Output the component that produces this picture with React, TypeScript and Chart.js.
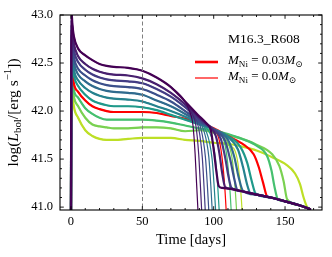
import React, { useEffect, useRef } from "react";
import { Chart, registerables } from "chart.js";

Chart.register(...registerables);

// ---------- data ----------
const modelColors = [
  "#440154", "#48206f", "#433c84", "#3c508b", "#306b8e", "#26828e",
  "#1f998a", "#ff0000", "#46c06f", "#7ad151", "#bddf26",
];

const plateauDays = [0, 0.3, 1, 2, 5, 10, 15, 20, 25, 30, 40, 50, 60, 70, 80];
const plateauM0 = [40.9, 43.05, 42.9, 42.78, 42.65, 42.58, 42.53, 42.49, 42.47, 42.46, 42.45, 42.42, 42.35, 42.25, 42.1];
const plateauM1 = [40.9, 43.0, 42.82, 42.7, 42.57, 42.49, 42.44, 42.41, 42.39, 42.38, 42.37, 42.34, 42.28, 42.19, 42.07];
const plateauM2 = [40.9, 42.95, 42.74, 42.63, 42.51, 42.43, 42.38, 42.35, 42.33, 42.32, 42.31, 42.29, 42.23, 42.15, 42.04];
const plateauM3 = [40.9, 42.9, 42.68, 42.56, 42.44, 42.37, 42.32, 42.29, 42.27, 42.26, 42.25, 42.23, 42.17, 42.1, 42.0];
const plateauM4 = [40.9, 42.85, 42.62, 42.5, 42.38, 42.31, 42.26, 42.23, 42.21, 42.2, 42.19, 42.17, 42.11, 42.05, 41.97];
const plateauM5 = [40.9, 42.8, 42.56, 42.43, 42.32, 42.24, 42.19, 42.16, 42.14, 42.13, 42.12, 42.1, 42.05, 42.0, 41.94];
const plateauM6 = [40.9, 42.75, 42.5, 42.37, 42.26, 42.17, 42.11, 42.08, 42.06, 42.05, 42.05, 42.04, 42.01, 41.96, 41.91];
const plateauRed = [40.9, 42.7, 42.42, 42.29, 42.2, 42.11, 42.05, 42.02, 42.0, 41.99, 41.99, 41.99, 41.98, 41.95, 41.92];
const plateauM8 = [40.9, 42.65, 42.35, 42.22, 42.14, 42.03, 41.97, 41.93, 41.91, 41.91, 41.91, 41.91, 41.9, 41.88, 41.85];
const plateauM9 = [40.9, 42.6, 42.28, 42.15, 42.05, 41.93, 41.86, 41.84, 41.83, 41.82, 41.82, 41.83, 41.83, 41.82, 41.79];
const plateauM10 = [40.9, 42.55, 42.2, 42.05, 41.93, 41.8, 41.74, 41.71, 41.7, 41.7, 41.71, 41.72, 41.72, 41.72, 41.7];
const plateaus = [plateauM0, plateauM1, plateauM2, plateauM3, plateauM4, plateauM5, plateauM6, plateauRed, plateauM8, plateauM9, plateauM10];

// end of plateau with M_Ni = 0.03 (thick lines)
const dropNi: number[][][] = [
  [[89, 41.96], [95, 41.87], [98, 41.8], [100, 41.6], [102, 41.36], [103.5, 41.22]],
  [[90, 41.93], [97, 41.84], [101.5, 41.74], [104, 41.56], [106, 41.35], [108, 41.21]],
  [[90, 41.91], [100, 41.81], [105, 41.71], [108, 41.52], [110.5, 41.31], [112.5, 41.2]],
  [[90, 41.89], [100, 41.81], [108, 41.69], [111.5, 41.5], [114.5, 41.29], [116.5, 41.18]],
  [[90, 41.88], [100, 41.81], [110, 41.7], [114.5, 41.52], [117.5, 41.31], [120.5, 41.17]],
  [[90, 41.87], [100, 41.81], [110, 41.73], [117, 41.6], [120.5, 41.42], [123.5, 41.23], [125.5, 41.15]],
  [[90, 41.86], [100, 41.81], [110, 41.74], [119, 41.62], [123.5, 41.46], [126.5, 41.28], [129.5, 41.14]],
  [[90, 41.88], [100, 41.82], [110, 41.74], [120, 41.66], [128, 41.55], [131.5, 41.42], [134.5, 41.26], [137.5, 41.11]],
  [[90, 41.82], [100, 41.8], [110, 41.76], [120, 41.71], [130, 41.64], [137.5, 41.53], [140.5, 41.38], [142.5, 41.22], [145, 41.08]],
  [[90, 41.8], [100, 41.78], [110, 41.75], [120, 41.71], [130, 41.65], [141, 41.55], [146, 41.43], [149, 41.27], [151.5, 41.08]],
  [[90, 41.69], [100, 41.67], [110, 41.66], [120, 41.63], [130, 41.59], [141, 41.52], [151, 41.44], [157, 41.35], [160.5, 41.24], [163, 41.1], [165.5, 41.0], [167.5, 40.98]],
];

// radioactive tail shared by the M_Ni = 0.03 models
const tailDays = [106, 112, 120, 130, 140, 150, 160, 167.5];
const tailLogL = [41.2, 41.19, 41.165, 41.13, 41.1, 41.06, 41.02, 40.98];

// end of plateau with M_Ni = 0 (thin lines)
const dropNoNi: number[][][] = [
  [[83, 42.0], [85.5, 41.85], [87, 41.55], [88, 41.25], [89.2, 40.9]],
  [[84.5, 41.98], [87.5, 41.85], [89.5, 41.55], [90.6, 41.25], [91.8, 40.9]],
  [[86, 41.96], [89.5, 41.82], [92, 41.52], [93.2, 41.22], [94.3, 40.9]],
  [[86, 41.94], [91, 41.82], [94.2, 41.52], [95.6, 41.22], [96.8, 40.9]],
  [[86, 41.92], [93, 41.8], [96.6, 41.52], [98, 41.22], [99.2, 40.9]],
  [[86, 41.9], [95, 41.78], [98.9, 41.5], [100.4, 41.2], [101.6, 40.9]],
  [[86, 41.88], [97, 41.78], [101.3, 41.5], [102.9, 41.2], [104.1, 40.9]],
  [[90, 41.88], [100, 41.81], [103.5, 41.72], [106, 41.5], [107.8, 41.2], [109, 40.9]],
  [[90, 41.82], [100, 41.79], [106.5, 41.72], [109.5, 41.5], [111.3, 41.2], [112.5, 40.9]],
  [[90, 41.8], [100, 41.77], [109.5, 41.68], [113, 41.5], [115, 41.2], [116.3, 40.9]],
  [[90, 41.69], [100, 41.67], [111, 41.64], [116.5, 41.5], [118.8, 41.2], [120.2, 40.9]],
];

const xTicksMajor = [0, 50, 100, 150];
const xTicksMinor = [10, 20, 30, 40, 60, 70, 80, 90, 110, 120, 130, 140, 160, 170];
const yTicksMajor = [41.0, 41.5, 42.0, 42.5, 43.0];
const yTicksMinor = [41.1, 41.2, 41.3, 41.4, 41.6, 41.7, 41.8, 41.9, 42.1, 42.2, 42.3, 42.4, 42.6, 42.7, 42.8, 42.9];
const xRange = [-7.7, 175.9];
const yRange = [40.97, 43.0];
const markerDay = 50;
const legendTitle = "M16.3_R608";
const legendNi = ["0.03", "0.0"];

// ---------- drawing helpers ----------
const FONT = "'Liberation Serif', 'DejaVu Serif', 'Times New Roman', serif";
type Seg = { t: string; it?: boolean; sub?: boolean; sup?: boolean };

function drawRich(ctx: CanvasRenderingContext2D, segs: Seg[], x: number, y: number, size: number, align: "left" | "center") {
  const fontFor = (s: Seg) => `${s.it ? "italic " : ""}${s.sub || s.sup ? size * 0.7 : size}px ${FONT}`;
  let total = 0;
  const widths = segs.map((s) => {
    ctx.font = fontFor(s);
    const w = ctx.measureText(s.t).width;
    total += w;
    return w;
  });
  let cx = align === "center" ? x - total / 2 : x;
  ctx.textBaseline = "middle";
  ctx.textAlign = "left";
  segs.forEach((s, i) => {
    ctx.font = fontFor(s);
    const dy = s.sub ? size * 0.28 : s.sup ? -size * 0.36 : 0;
    ctx.fillText(s.t, cx, y + dy);
    cx += widths[i];
  });
}

const decorPlugin = {
  id: "decor",
  afterDatasetsDraw(chart: any) {
    const { ctx, chartArea: a, scales } = chart;
    const x = scales.x;
    const y = scales.y;
    ctx.save();
    // dashed marker
    ctx.strokeStyle = "#808080";
    ctx.lineWidth = 1;
    ctx.setLineDash([4, 2.5]);
    const mx = Math.round(x.getPixelForValue(markerDay)) + 0.5;
    ctx.beginPath();
    ctx.moveTo(mx, a.top);
    ctx.lineTo(mx, a.bottom);
    ctx.stroke();
    ctx.setLineDash([]);

    // ticks (inward, all sides)
    ctx.strokeStyle = "#000";
    ctx.lineWidth = 0.9;
    const tick = (vals: number[], len: number) => {
      vals.forEach((v) => {
        const px = x.getPixelForValue(v);
        ctx.beginPath();
        ctx.moveTo(px, a.bottom);
        ctx.lineTo(px, a.bottom - len);
        ctx.moveTo(px, a.top);
        ctx.lineTo(px, a.top + len);
        ctx.stroke();
      });
    };
    const ytick = (vals: number[], len: number) => {
      vals.forEach((v) => {
        const py = y.getPixelForValue(v);
        ctx.beginPath();
        ctx.moveTo(a.left, py);
        ctx.lineTo(a.left + len, py);
        ctx.moveTo(a.right, py);
        ctx.lineTo(a.right - len, py);
        ctx.stroke();
      });
    };
    tick(xTicksMajor, 3.8);
    tick(xTicksMinor, 2);
    ytick(yTicksMajor, 3.8);
    ytick(yTicksMinor, 2);

    // frame
    ctx.lineWidth = 1.1;
    ctx.strokeRect(a.left, a.top, a.right - a.left, a.bottom - a.top);

    // legend
    ctx.fillStyle = "#000";
    ctx.font = `13.5px ${FONT}`;
    ctx.textAlign = "left";
    ctx.textBaseline = "middle";
    ctx.fillText(legendTitle, a.right - 94, a.top + 24);
    const lx0 = a.right - 127;
    const lx1 = a.right - 104;
    const rows = [a.top + 47, a.top + 63];
    const widths = [2.6, 1.2];
    rows.forEach((ry, i) => {
      ctx.strokeStyle = modelColors[7];
      ctx.lineWidth = widths[i];
      ctx.beginPath();
      ctx.moveTo(lx0, ry);
      ctx.lineTo(lx1, ry);
      ctx.stroke();
      drawRich(
        ctx,
        [{ t: "M", it: true }, { t: "Ni", sub: true }, { t: ` = ${legendNi[i]}` }, { t: "M", it: true }, { t: "⊙", sub: true }],
        a.right - 94,
        ry - 1,
        13,
        "left"
      );
    });

    // axis titles
    drawRich(ctx, [{ t: "Time [days]" }], (a.left + a.right) / 2, 240, 14.5, "center");
    ctx.translate(14, (a.top + a.bottom) / 2);
    ctx.rotate(-Math.PI / 2);
    drawRich(
      ctx,
      [{ t: "log(" }, { t: "L", it: true }, { t: "bol", sub: true }, { t: "/[erg s" }, { t: "−1", sup: true }, { t: "])" }],
      0,
      0,
      15.5,
      "center"
    );
    ctx.restore();
  },
};

function buildDatasets() {
  const sets: any[] = [];
  plateaus.forEach((vals, i) => {
    const base = plateauDays.map((d, k) => ({ x: d, y: vals[k] }));
    const ni = dropNi[i].map(([d, v]) => ({ x: d, y: v }));
    const lastDay = dropNi[i][dropNi[i].length - 1][0];
    const tail = tailDays
      .map((d, k) => ({ x: d, y: tailLogL[k] }))
      .filter((p) => p.x > lastDay + 2);
    sets.push({
      data: [...base, ...ni, ...tail],
      borderColor: modelColors[i],
      borderWidth: 2.2,
    });
    const firstThin = dropNoNi[i][0][0];
    sets.push({
      data: [...base.filter((p) => p.x < firstThin), ...dropNoNi[i].map(([d, v]) => ({ x: d, y: v }))],
      borderColor: modelColors[i],
      borderWidth: 1.2,
    });
  });
  return sets;
}

export default function App() {
  const ref = useRef<HTMLCanvasElement | null>(null);
  useEffect(() => {
    if (!ref.current) return;
    const chart = new Chart(ref.current, {
      type: "line",
      data: { datasets: buildDatasets() },
      options: {
        animation: false,
        responsive: false,
        devicePixelRatio: 1,
        parsing: false,
        normalized: true,
        layout: { padding: { top: 15, right: 10, left: 0, bottom: 0 } },
        elements: {
          point: { radius: 0 },
          line: { cubicInterpolationMode: "monotone", borderCapStyle: "round", borderJoinStyle: "round" },
        },
        plugins: { legend: { display: false }, tooltip: { enabled: false }, title: { display: false } },
        scales: {
          x: {
            type: "linear",
            min: xRange[0],
            max: xRange[1],
            grid: { display: false, drawTicks: false },
            border: { display: false },
            afterBuildTicks: (s: any) => {
              s.ticks = xTicksMajor.map((v) => ({ value: v }));
            },
            afterFit: (s: any) => {
              s.height = 47;
            },
            ticks: {
              color: "#000",
              padding: 4,
              maxRotation: 0,
              autoSkip: false,
              font: { family: FONT, size: 12.5 },
              callback: (v: any) => String(v),
            },
          },
          y: {
            type: "linear",
            min: yRange[0],
            max: yRange[1],
            grid: { display: false, drawTicks: false },
            border: { display: false },
            afterBuildTicks: (s: any) => {
              s.ticks = yTicksMajor.map((v) => ({ value: v }));
            },
            afterFit: (s: any) => {
              s.width = 60;
            },
            ticks: {
              color: "#000",
              padding: 7,
              autoSkip: false,
              font: { family: FONT, size: 12.5 },
              callback: (v: any) => Number(v).toFixed(1),
            },
          },
        },
      },
      plugins: [decorPlugin],
    });
    return () => chart.destroy();
  }, []);
  return (
    <div style={{ position: "fixed", left: 0, top: 0, width: 332, height: 257, background: "#fff" }}>
      <canvas ref={ref} width={332} height={257} style={{ width: 332, height: 257, display: "block" }} />
    </div>
  );
}
